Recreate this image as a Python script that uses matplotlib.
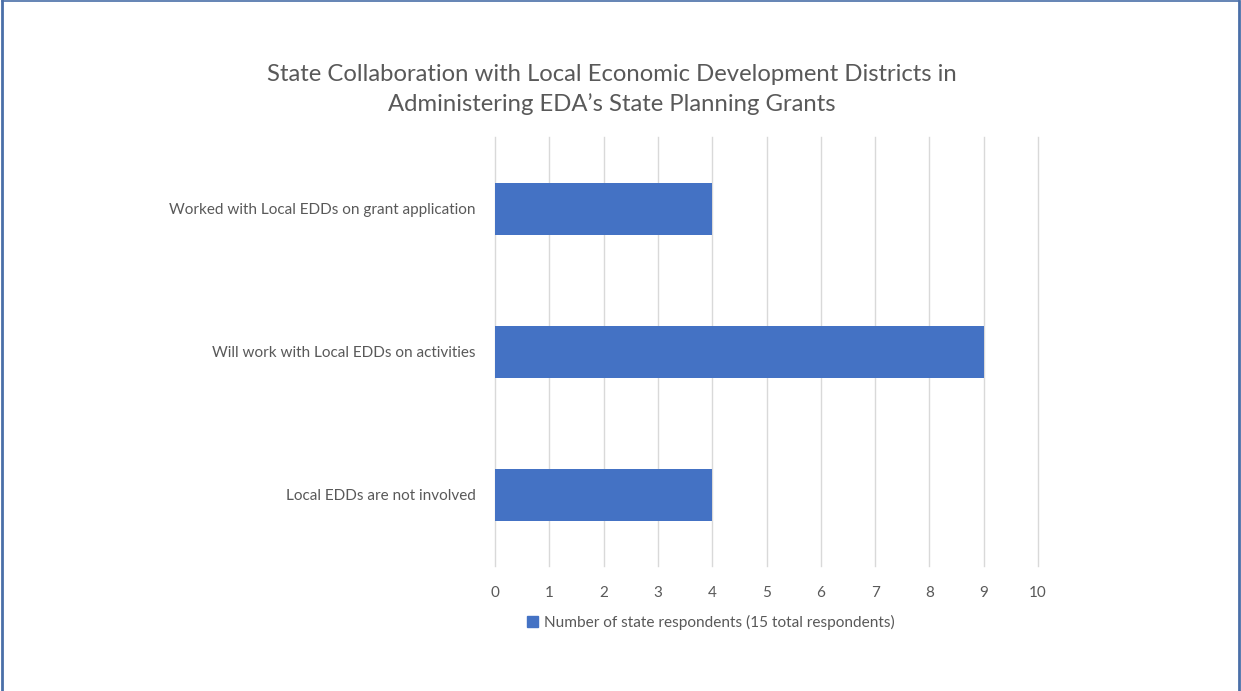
import matplotlib.pyplot as plt
from matplotlib.lines import Line2D

categories = ["Worked with Local EDDs on grant application",
              "Will work with Local EDDs on activities",
              "Local EDDs are not involved"]
values = [4, 9, 4]
xticks = [0, 1, 2, 3, 4, 5, 6, 7, 8, 9, 10]
series_name = "Number of state respondents (15 total respondents)"
title = "State Collaboration with Local Economic Development Districts in\nAdministering EDA\u2019s State Planning Grants"

plt.rcParams['font.family'] = ['Lato', 'DejaVu Sans']
grey = '#595959'
bar_color = '#4472C4'

fig = plt.figure(figsize=(12.41, 6.91), dpi=100)
ax = fig.add_axes([0.3989, 0.1802, 0.4375, 0.621])

ypos = list(range(len(categories)))
ax.barh(ypos, values, height=0.36, color=bar_color, zorder=3)
ax.set_ylim(len(categories) - 0.5, -0.5)
ax.set_xlim(0, 10)
ax.set_xticks(xticks)
ax.set_yticks(ypos)
ax.set_yticklabels(categories, fontsize=11, color=grey)
ax.tick_params(axis='x', labelsize=11, labelcolor=grey, length=0, pad=14)
ax.tick_params(axis='y', length=0, pad=14)
ax.grid(axis='x', color='#d9d9d9', linewidth=1, zorder=0)
for gl in ax.get_xgridlines():
    gl.set_clip_on(False)
for s in ax.spines.values():
    s.set_visible(False)

fig.text(0.493, 0.87, title, ha='center', va='center', fontsize=17.2,
         color=grey, linespacing=1.45)

handle = plt.Rectangle((0, 0), 1, 1, color=bar_color)
fig.legend([handle], [series_name], loc='center', bbox_to_anchor=(0.573, 0.099),
           frameon=False, fontsize=11.1, labelcolor=grey, handlelength=0.7,
           handleheight=0.7, handletextpad=0.4)

# border (left, top, right)
bc = '#4a6fa8'
fig.add_artist(Line2D([0.0015, 0.0015], [0, 0.9985], color=bc, lw=2, transform=fig.transFigure))
fig.add_artist(Line2D([0.0015, 0.9985], [0.9985, 0.9985], color=bc, lw=1.2, transform=fig.transFigure))
fig.add_artist(Line2D([0.9985, 0.9985], [0, 0.9985], color=bc, lw=2, transform=fig.transFigure))

fig.savefig("out.png", dpi=100, facecolor='white')
